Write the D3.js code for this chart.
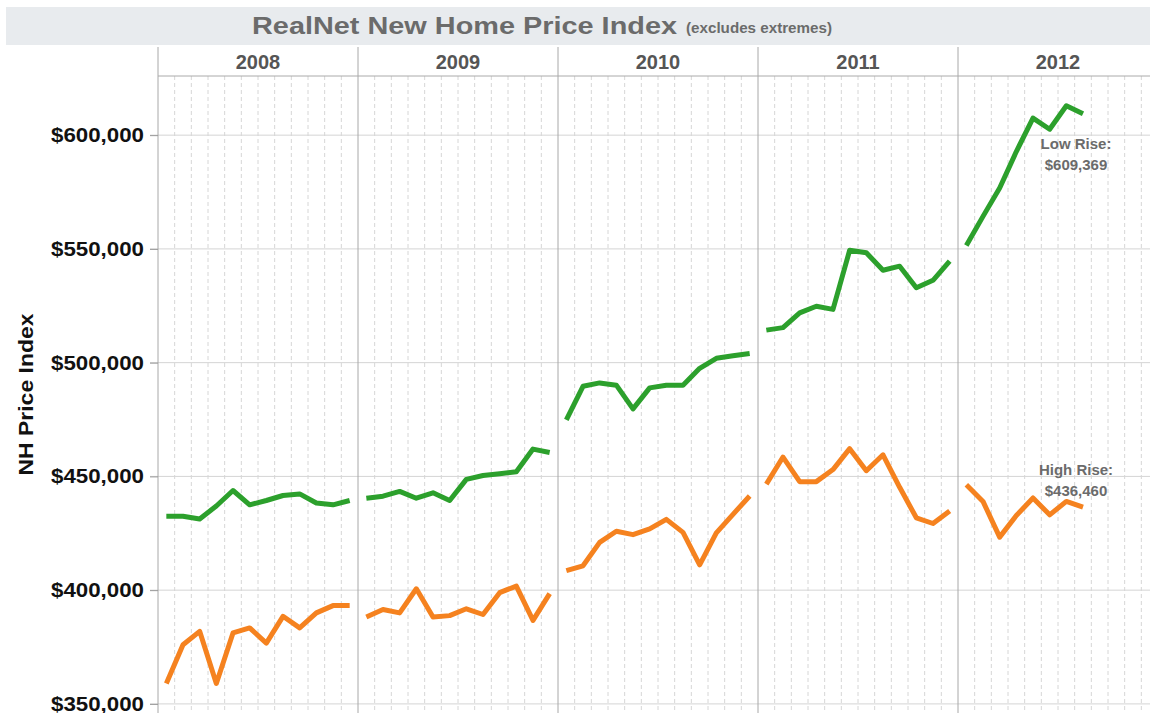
<!DOCTYPE html>
<html>
<head>
<meta charset="utf-8">
<script src="https://cdn.jsdelivr.net/npm/d3@7"></script>
<style>
  html, body { margin: 0; padding: 0; background: #fff; }
  svg { display: block; font-family: 'Liberation Sans', Arial, sans-serif; }
</style>
</head>
<body>
<svg id="chart" width="1150" height="713"></svg>
<script>
const years = ['2008', '2009', '2010', '2011', '2012'];
const months = ['Jan', 'Feb', 'Mar', 'Apr', 'May', 'Jun', 'Jul', 'Aug', 'Sep', 'Oct', 'Nov', 'Dec'];
const yTicks = [350000, 400000, 450000, 500000, 550000, 600000];

// monthly index values (2012 runs Jan-Aug)
const lowRise2008 = [432500, 432500, 431300, 437000, 443800, 437500, 439400, 441600, 442300, 438300, 437500, 439400];
const lowRise2009 = [440400, 441300, 443400, 440400, 442800, 439400, 448700, 450400, 451200, 452000, 462000, 460500];
const lowRise2010 = [474800, 489600, 491100, 490100, 479700, 488900, 490100, 490100, 497500, 501900, 503000, 504000];
const lowRise2011 = [514300, 515400, 521900, 524800, 523400, 549400, 548300, 540600, 542400, 532900, 536200, 544600];
const lowRise2012 = [551500, 564300, 576800, 592800, 607500, 602600, 612900, 609369];

const highRise2008 = [359000, 376000, 381900, 359000, 381200, 383400, 376700, 388500, 383400, 390000, 393200, 393200];
const highRise2009 = [388200, 391500, 390000, 400600, 388200, 388800, 391800, 389300, 398900, 401800, 386700, 398500];
const highRise2010 = [408600, 410700, 421000, 425900, 424400, 426900, 431100, 425400, 411100, 425200, 433300, 441400];
const highRise2011 = [446600, 458500, 447700, 447700, 453000, 462200, 452500, 459500, 445200, 431800, 429300, 434800];
const highRise2012 = [446300, 439000, 423300, 432800, 440500, 433100, 439000, 436460];

const seriesNames = ['Low Rise', 'High Rise'];
const seriesColors = ['#2ca02c', '#f5821f'];
const lowRise = [lowRise2008, lowRise2009, lowRise2010, lowRise2011, lowRise2012];
const highRise = [highRise2008, highRise2009, highRise2010, highRise2011, highRise2012];

const svg = d3.select('#chart');
const W = 1150, H = 713;
const plotLeft = 158, plotTop = 76, headerTop = 47;

const x = d3.scaleBand().domain(years).range([plotLeft, plotLeft + 1000]);
const xm = d3.scaleBand().domain(d3.range(12)).range([0, x.bandwidth()]);
const y = d3.scaleLinear().domain([346000, 626000]).range([H, plotTop]);
const px = (yr, i) => x(yr) + xm(i) + xm.bandwidth() / 2;
const money = d3.format('$,');

// title band
svg.append('rect')
  .attr('x', 6).attr('y', 7).attr('width', W - 6).attr('height', 38)
  .attr('fill', '#e8ebee');
svg.append('text')
  .attr('x', 252).attr('y', 34)
  .attr('textLength', 425).attr('lengthAdjust', 'spacingAndGlyphs')
  .style('font-size', '24px').style('font-weight', '700').style('fill', '#6b6b6b')
  .text('RealNet New Home Price Index');
svg.append('text')
  .attr('x', 686).attr('y', 33)
  .attr('textLength', 146).attr('lengthAdjust', 'spacingAndGlyphs')
  .style('font-size', '15px').style('font-weight', '700').style('fill', '#6b6b6b')
  .text('(excludes extremes)');

// horizontal grid
svg.append('g').selectAll('line')
  .data(yTicks).enter().append('line')
  .attr('x1', plotLeft - 8).attr('x2', W)
  .attr('y1', d => y(d)).attr('y2', d => y(d))
  .attr('stroke', '#d4d4d4').attr('stroke-width', 1);

// month grid (dashed)
const monthLines = [];
years.forEach(yr => d3.range(1, 12).forEach(i => monthLines.push(x(yr) + xm(i))));
svg.append('g').selectAll('line')
  .data(monthLines).enter().append('line')
  .attr('x1', d => d).attr('x2', d => d)
  .attr('y1', plotTop).attr('y2', H)
  .attr('stroke', '#d6d6d6').attr('stroke-width', 1).attr('stroke-dasharray', '4,3');

// year dividers + header
svg.append('g').selectAll('line')
  .data(years).enter().append('line')
  .attr('x1', d => x(d)).attr('x2', d => x(d))
  .attr('y1', headerTop).attr('y2', H)
  .attr('stroke', '#a8a8a8').attr('stroke-width', 1);
svg.append('line')
  .attr('x1', plotLeft).attr('x2', W).attr('y1', plotTop).attr('y2', plotTop)
  .attr('stroke', '#aaaaaa').attr('stroke-width', 1);
svg.append('g').selectAll('text')
  .data(years).enter().append('text')
  .attr('x', d => x(d) + x.bandwidth() / 2).attr('y', 69)
  .attr('text-anchor', 'middle')
  .style('font-size', '20px').style('font-weight', '700').style('fill', '#555')
  .text(d => d);

// y axis
const yAxis = svg.append('g')
  .attr('transform', `translate(${plotLeft},0)`)
  .call(d3.axisLeft(y).tickValues(yTicks).tickSize(8).tickPadding(6).tickFormat(money));
yAxis.select('.domain').remove();
yAxis.selectAll('line').attr('stroke', '#999');
yAxis.selectAll('text')
  .attr('textLength', 93).attr('lengthAdjust', 'spacingAndGlyphs')
  .style('font-size', '20px').style('font-weight', '700').style('fill', '#111')
  .style('font-family', "'Liberation Sans', Arial, sans-serif");

svg.append('text')
  .attr('transform', `translate(33,${(y(500000) + y(450000)) / 2 - 25}) rotate(-90)`)
  .attr('text-anchor', 'middle')
  .attr('textLength', 162).attr('lengthAdjust', 'spacingAndGlyphs')
  .style('font-size', '20px').style('font-weight', '700').style('fill', '#111')
  .text('NH Price Index');

// lines, one segment per year
const line = d3.line().x(d => d.x).y(d => y(d.v));
[lowRise, highRise].forEach((series, s) => {
  const segs = years.map((yr, k) => series[k].map((v, i) => ({ x: px(yr, i), v })));
  svg.append('g').selectAll('path')
    .data(segs).enter().append('path')
    .attr('d', line)
    .attr('fill', 'none')
    .attr('stroke', seriesColors[s])
    .attr('stroke-width', 5)
    .attr('stroke-linejoin', 'round');
});

// end labels
const lastYear = years[years.length - 1];
const annot = [
  { name: seriesNames[0], data: lowRise2012, dy: [35, 56] },
  { name: seriesNames[1], data: highRise2012, dy: [-32, -11] }
];
annot.forEach(a => {
  const n = a.data.length - 1;
  const cx = px(lastYear, n) - 7;
  const cy = y(a.data[n]);
  const t = svg.append('text')
    .attr('text-anchor', 'middle')
    .style('font-size', '15px').style('font-weight', '700').style('fill', '#6b6b6b');
  t.append('tspan').attr('x', cx).attr('y', cy + a.dy[0]).text(a.name + ':');
  t.append('tspan').attr('x', cx).attr('y', cy + a.dy[1]).text(money(a.data[n]));
});
</script>
</body>
</html>
